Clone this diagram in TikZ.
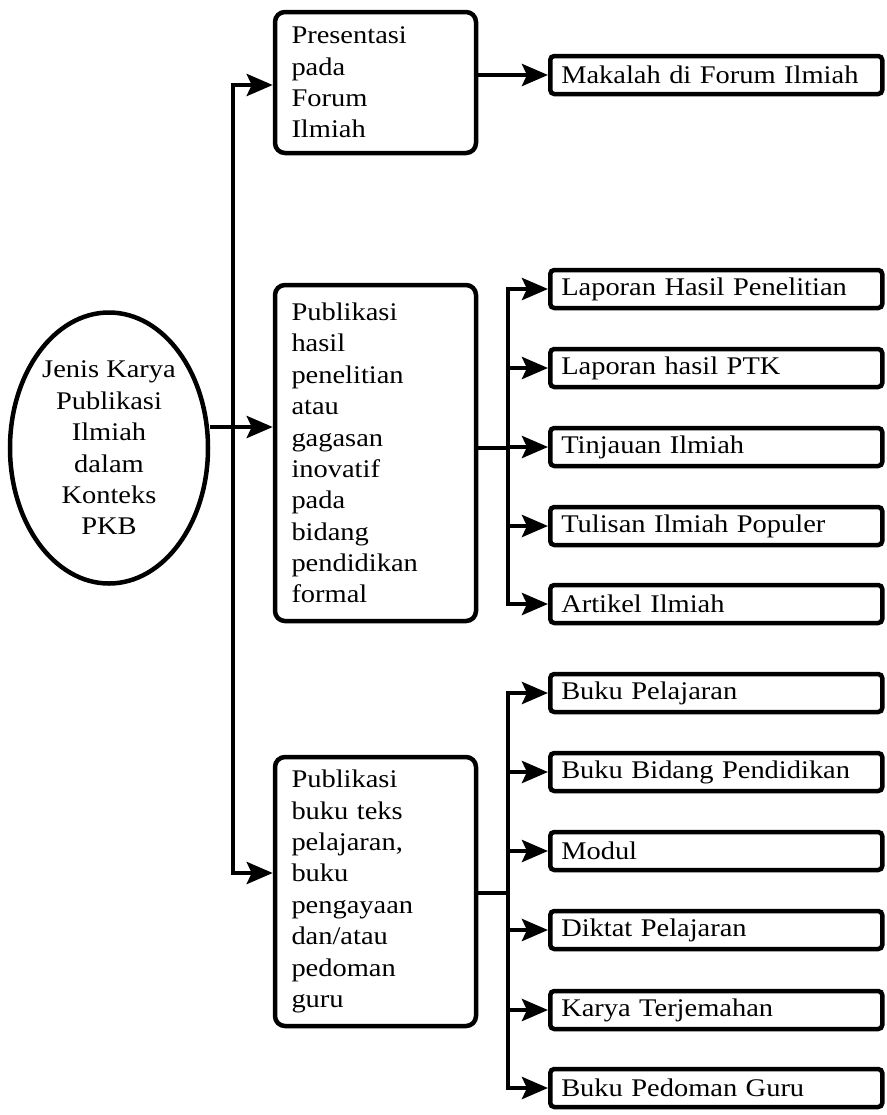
\documentclass[tikz,border=0pt]{standalone}
\usepackage{fontspec}
\setmainfont{Liberation Serif}[FakeStretch=1.12]
\usetikzlibrary{arrows.meta,shapes.geometric}
\begin{document}
\begin{tikzpicture}[x=1bp,y=-1bp,
    font=\fontsize{25.5}{31.5}\selectfont,
    rootnode/.style={draw,ellipse,line width=4.5bp,inner sep=0pt,
      minimum width=198bp,minimum height=271bp,align=center},
    midbox/.style={draw,line width=4.5bp,rounded corners=10bp,
      minimum width=201bp,text width=168bp,inner xsep=14bp,align=left},
    leaf/.style={draw,line width=4.5bp,rounded corners=4bp,anchor=west,
      minimum width=332bp,minimum height=38bp,text width=310bp,
      inner xsep=11bp,inner ysep=0pt,align=left},
    link/.style={line width=4.5bp,-{Stealth[length=26bp,width=22bp,inset=5bp]}},
    twolink/.style={line width=4.5bp,
      {Stealth[length=26bp,width=22bp,inset=5bp]}-{Stealth[length=26bp,width=22bp,inset=5bp]}}]
  \useasboundingbox (0,0) rectangle (887,1115);
  % root and the three kinds
  \node[rootnode] (root) at (109,448) {Jenis Karya\\Publikasi\\Ilmiah\\dalam\\Konteks\\PKB};
  \node[midbox,minimum height=141bp] (pres) at (375.5,82.5)
    {Presentasi\\pada\\Forum\\Ilmiah};
  \node[midbox,minimum height=336bp] (pub) at (375.5,453)
    {Publikasi\\hasil\\penelitian\\atau\\gagasan\\inovatif\\pada\\bidang\\pendidikan\\formal};
  \node[midbox,minimum height=269bp] (buku) at (375.5,891.5)
    {Publikasi\\buku teks\\pelajaran,\\buku\\pengayaan\\dan/atau\\pedoman\\guru};
  % leaves
  \node[leaf] (mak) at (548,75) {Makalah di Forum Ilmiah};
  \node[leaf] (lhp) at (548,289) {Laporan Hasil Penelitian};
  \node[leaf] (ptk) at (548,368) {Laporan hasil PTK};
  \node[leaf] (tin) at (548,447) {Tinjauan Ilmiah};
  \node[leaf] (tul) at (548,526) {Tulisan Ilmiah Populer};
  \node[leaf] (art) at (548,604) {Artikel Ilmiah};
  \node[leaf] (bpl) at (548,693) {Buku Pelajaran};
  \node[leaf] (bbp) at (548,772) {Buku Bidang Pendidikan};
  \node[leaf] (mod) at (548,851) {Modul};
  \node[leaf] (dik) at (548,930) {Diktat Pelajaran};
  \node[leaf] (kar) at (548,1010) {Karya Terjemahan};
  \node[leaf] (bpg) at (548,1088) {Buku Pedoman Guru};
  % joints
  \coordinate (j0) at (233,427);
  \coordinate (j1) at (233,85);
  \coordinate (j3) at (233,873);
  \coordinate (k2) at (508,448);
  \coordinate (k3) at (508,893);
  \begin{scope}[line join=miter]
    \draw[twolink] (pres.west |- j1) -- (j1) -- (j3) -- (j3 -| buku.west);
    \draw[link] (root.east |- j0) -- (j0 -| pub.west);
    \draw[link] (pres.east |- mak) -- (mak.west);
    \draw[line width=4.5bp] (pub.east |- k2) -- (k2);
    \draw[twolink] (lhp.west) -- (k2 |- lhp) -- (k2 |- art) -- (art.west);
    \draw[link] (k2 |- ptk) -- (ptk.west);
    \draw[link] (k2 |- tin) -- (tin.west);
    \draw[link] (k2 |- tul) -- (tul.west);
    \draw[line width=4.5bp] (buku.east |- k3) -- (k3);
    \draw[twolink] (bpl.west) -- (k3 |- bpl) -- (k3 |- bpg) -- (bpg.west);
    \draw[link] (k3 |- bbp) -- (bbp.west);
    \draw[link] (k3 |- mod) -- (mod.west);
    \draw[link] (k3 |- dik) -- (dik.west);
    \draw[link] (k3 |- kar) -- (kar.west);
  \end{scope}
\end{tikzpicture}
\end{document}
